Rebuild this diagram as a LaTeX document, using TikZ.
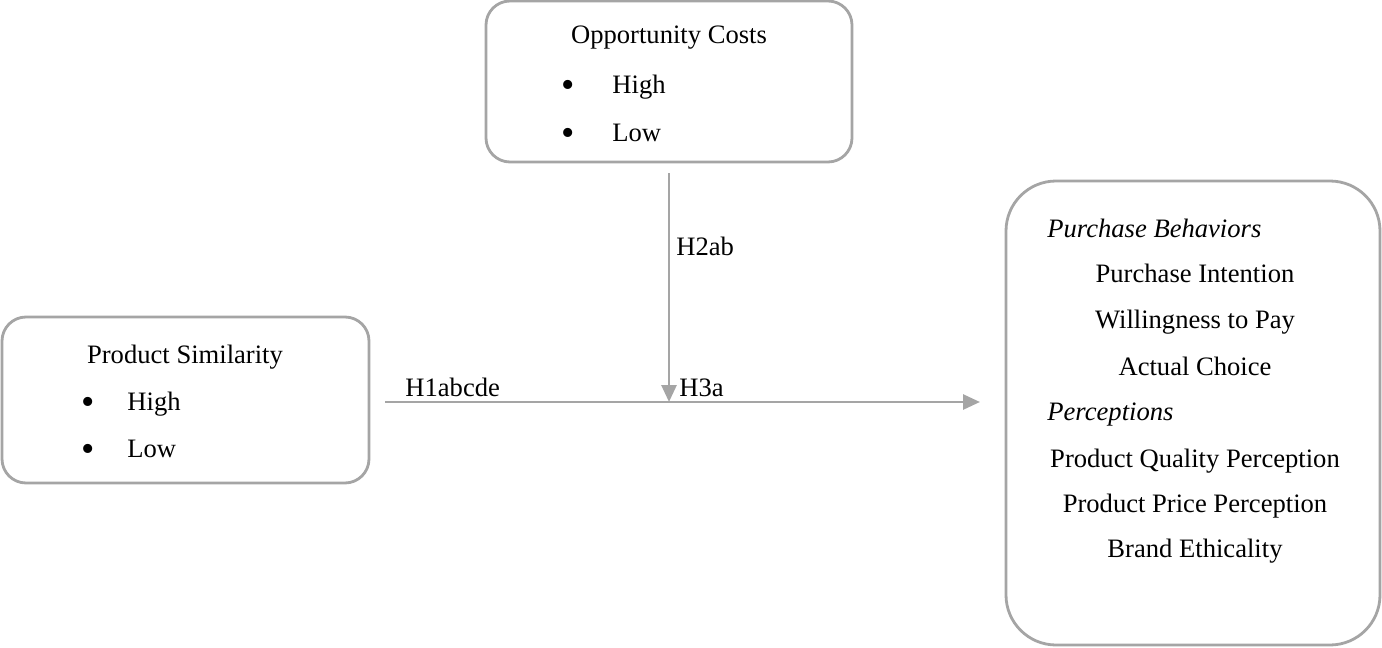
\documentclass[tikz,border=0pt]{standalone}
\usepackage{fontspec}
\setmainfont{Liberation Serif}
\usetikzlibrary{arrows.meta}
\definecolor{linegray}{HTML}{A5A5A5}
\begin{document}
\begin{tikzpicture}[x=0.5pt,y=-0.5pt,
  box/.style={draw=linegray, line width=1.4pt, rounded corners=#1, inner sep=0, fill=white},
  txt/.style={inner sep=0, anchor=base, font=\fontsize{13.3}{15}\selectfont},
  txtw/.style={inner sep=0, anchor=base west, font=\fontsize{13.3}{15}\selectfont},
  bul/.style={inner sep=0, anchor=center, font=\fontsize{19}{20}\selectfont},
  conn/.style={draw=linegray, line width=1.4pt, -{Triangle[length=8.5pt,width=7.5pt]}}]
\useasboundingbox (0,0) rectangle (1382,648);
% boxes
\path[box=12pt] (486,1) rectangle (852,162);
\node[inner sep=0, minimum width=183pt, minimum height=80.5pt] (oc) at (669,81.5) {};
\path[box=12pt] (2,317) rectangle (369,483);
\node[inner sep=0, minimum width=183.5pt, minimum height=83pt] (ps) at (185.5,400) {};
\path[box=25pt] (1006,181) rectangle (1380,645);
\node[inner sep=0, minimum width=187pt, minimum height=232pt] (out) at (1193,413) {};
% texts
\node[txt] (octitle) at (669,43) {Opportunity Costs};
\node[bul] (ocb1) at (568,89) {\textbullet};
\node[txtw] (och) at (612,93) {High};
\node[bul] (ocb2) at (568,137) {\textbullet};
\node[txtw] (ocl) at (612,141) {Low};
\node[txt] (pstitle) at (185,363) {Product Similarity};
\node[bul] (psb1) at (88,406) {\textbullet};
\node[txtw] (psh) at (127,410) {High};
\node[bul] (psb2) at (88,453) {\textbullet};
\node[txtw] (psl) at (127,457) {Low};
\node[txtw] (pb) at (1047,237) {\itshape Purchase Behaviors};
\node[txt] (pi) at (1195,282) {Purchase Intention};
\node[txt] (wtp) at (1195,328) {Willingness to Pay};
\node[txt] (ac) at (1195,375) {Actual Choice};
\node[txtw] (pc) at (1047,420) {\itshape Perceptions};
\node[txt] (pqp) at (1195,467) {Product Quality Perception};
\node[txt] (ppp) at (1195,512) {Product Price Perception};
\node[txt] (be) at (1195,557) {Brand Ethicality};
% connectors
\coordinate (j) at (669,402);
\coordinate (hs) at (385,402);
\coordinate (he) at (980,402);
\draw[conn, shorten <=5.5pt] (oc.south) -- (j);
\draw[conn] (hs) -- (he);
\node[txtw] (h2) at (676,255) {H2ab};
\node[txtw] (h1) at (405,396) {H1abcde};
\node[txtw] (h3) at (679,396) {H3a};
\end{tikzpicture}
\end{document}
